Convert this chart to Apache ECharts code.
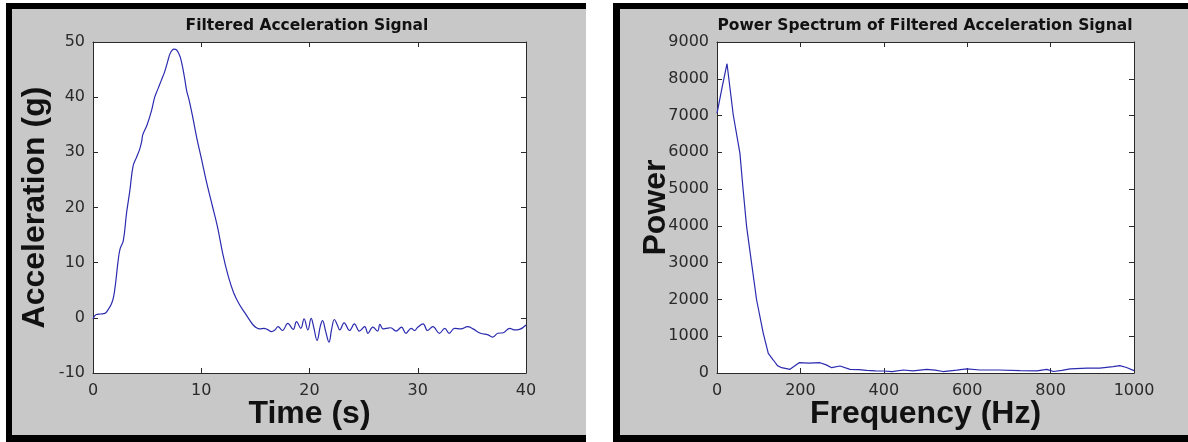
<!DOCTYPE html>
<html>
<head>
<meta charset="utf-8">
<script src="https://cdn.jsdelivr.net/npm/echarts@6/dist/echarts.min.js"></script>
<style>
  html, body { margin: 0; padding: 0; background: #ffffff; }
  #chart { width: 1188px; height: 442px; }
</style>
</head>
<body>
<div id="chart"></div>
<script>
// Filtered acceleration signal: time (s) and acceleration (g)
const timeS = [
  0, 0.3, 0.7, 1.1, 1.4, 1.7, 1.9, 2.1, 2.3, 2.5,
  2.8, 3.1, 3.4, 3.7, 4.0, 4.3, 4.5, 4.6, 5.0, 5.4,
  5.7, 6.0, 6.3, 6.6, 6.9, 7.1, 7.3, 7.5, 7.7, 7.9,
  8.1, 8.3, 8.5, 8.65, 8.9, 9.2, 9.6, 10.0, 10.5, 11.0,
  11.5, 12.0, 12.5, 13.0, 13.5, 14.0, 14.5, 14.8, 15.1, 15.4,
  15.8, 16.1, 16.5, 16.8, 17.1, 17.5, 18.0, 18.5, 18.8, 19.2,
  19.5, 19.85, 20.15, 20.4, 20.7, 21.0, 21.2, 21.5, 21.8, 22.05,
  22.3, 22.55, 22.8, 23.2, 23.7, 24.15, 24.6, 25.1, 25.4, 25.85,
  26.3, 26.5, 26.8, 27.1, 27.5, 28.0, 28.5, 28.9, 29.4, 29.7,
  30.0, 30.5, 30.9, 31.4, 32.0, 32.5, 32.9, 33.4, 34.0, 34.6,
  35.1, 35.8, 36.5, 36.9, 37.4, 37.9, 38.5, 38.9, 39.4, 40
];
const accelG = [
  -0.2, 0.6, 0.7, 0.8, 1.5, 2.5, 3.8, 6.5, 10, 12.5,
  14, 19, 23, 27.5, 29, 30.5, 32, 33.2, 35, 37.5,
  40, 41.5, 43, 44.5, 46.5, 47.8, 48.5, 48.7, 48.6, 48,
  47, 45.2, 43, 41.2, 39.3, 36.5, 32.5, 29, 24.5, 20.5,
  16.5, 11.5, 7.5, 4.5, 2.5, 1, -0.5, -1.3, -1.8, -2,
  -1.9, -2.1, -2.5, -2.2, -1.6, -2.3, -1, -2.1, -0.7, -1.9,
  -0.2, -2.2, -0.1, -1.8, -4.1, -1.5, -0.5, -2.5, -4.4, -2,
  -0.3, -1.2, -2.2, -0.9, -2.3, -1.1, -2.4, -1.6, -2.8, -1.7,
  -2.4, -1.2, -2.0, -1.9, -1.8, -2.4, -1.7, -2.8, -1.9, -2.3,
  -1.7, -1.1, -2.3, -1.6, -2.8, -1.9, -2.8, -1.9, -2.0, -1.6,
  -2.0, -2.8, -3.1, -3.5, -2.8, -2.7, -1.9, -2.2, -2.1, -1.3
];

// Power spectrum of the filtered signal: frequency (Hz) and power
const freqHz = [
  0, 12, 24, 39, 55, 62, 71, 83, 95, 111,
  123, 135, 145, 155, 175, 197, 220, 247, 262, 275,
  295, 319, 340, 359, 380, 399, 420, 447, 470, 503,
  523, 542, 575, 599, 631, 675, 727, 767, 791, 807,
  827, 847, 887, 918, 950, 966, 982, 1000
];
const powerVal = [
  7060, 7750, 8410, 7015, 5973, 5066, 3978, 2982, 1985, 1079,
  535, 353, 200, 145, 100, 280, 270, 280, 220, 145,
  190, 100, 90, 70, 60, 54, 36, 82, 60, 100,
  80, 40, 80, 110, 82, 82, 65, 60, 100, 40,
  70, 110, 130, 130, 172, 200, 150, 65
];

const timeTicks = [0, 10, 20, 30, 40];
const accelTicks = [-10, 0, 10, 20, 30, 40, 50];
const freqTicks = [0, 200, 400, 600, 800, 1000];
const powerTicks = [0, 1000, 2000, 3000, 4000, 5000, 6000, 7000, 8000, 9000];

const titles = ['Filtered Acceleration Signal', 'Power Spectrum of Filtered Acceleration Signal'];

const accelData = timeS.map((t, i) => [t, accelG[i]]);
const powerData = freqHz.map((f, i) => [f, powerVal[i]]);

const TICK_FONT = { fontFamily: 'DejaVu Sans', fontSize: 16, color: '#2a2a2a' };
const NAME_FONT = { fontFamily: 'Liberation Sans', fontSize: 32, fontWeight: 'bold', color: '#111' };
const TITLE_FONT = { fontFamily: 'DejaVu Sans', fontSize: 15.5, fontWeight: 'bold', color: '#111' };
const LINE_COLOR = '#2b2bb0';
const AXIS_COLOR = '#2a2a2a';

function mainAxis(pos, gridIndex, ticks, name, nameGap, margin) {
  return {
    type: 'value', gridIndex, position: pos,
    min: ticks[0], max: ticks[ticks.length - 1],
    interval: ticks[1] - ticks[0],
    axisLine: { show: true, onZero: false, lineStyle: { color: AXIS_COLOR, width: 1 } },
    axisTick: { show: true, inside: true, length: 5, lineStyle: { color: AXIS_COLOR } },
    axisLabel: Object.assign({ margin, formatter: v => String(v) }, TICK_FONT),
    splitLine: { show: false },
    name, nameLocation: 'middle', nameGap, nameMoveOverlap: false,
    nameTextStyle: NAME_FONT
  };
}
function mirrorAxis(pos, gridIndex, ticks) {
  return {
    type: 'value', gridIndex, position: pos,
    min: ticks[0], max: ticks[ticks.length - 1],
    interval: ticks[1] - ticks[0],
    axisLine: { show: true, onZero: false, lineStyle: { color: AXIS_COLOR, width: 1 } },
    axisTick: { show: true, inside: true, length: 5, lineStyle: { color: AXIS_COLOR } },
    axisLabel: { show: false },
    splitLine: { show: false }
  };
}

const chart = echarts.init(document.getElementById('chart'), null, { renderer: 'canvas' });

const option = {
  backgroundColor: '#ffffff',
  animation: false,
  graphic: [
    // figure panels: black frame with grey face
    { type: 'rect', z: -10, shape: { x: 6, y: 3, width: 580, height: 450 }, style: { fill: '#000000' } },
    { type: 'rect', z: -9, shape: { x: 12, y: 9, width: 574, height: 426 }, style: { fill: '#c8c8c8' } },
    { type: 'rect', z: -10, shape: { x: 613, y: 3, width: 600, height: 450 }, style: { fill: '#000000' } },
    { type: 'rect', z: -9, shape: { x: 620, y: 9, width: 600, height: 426 }, style: { fill: '#c8c8c8' } }
  ],
  title: [
    { text: titles[0], left: 302, top: 13, textAlign: 'center', textStyle: TITLE_FONT },
    { text: titles[1], left: 920, top: 13, textAlign: 'center', textStyle: TITLE_FONT }
  ],
  grid: [
    { left: 93, top: 42, width: 433, height: 331, show: true, backgroundColor: '#ffffff', borderWidth: 0 },
    { left: 717, top: 42, width: 417, height: 331, show: true, backgroundColor: '#ffffff', borderWidth: 0 }
  ],
  xAxis: [
    mainAxis('bottom', 0, timeTicks, 'Time (s)', 25, 10),
    mirrorAxis('top', 0, timeTicks),
    mainAxis('bottom', 1, freqTicks, 'Frequency (Hz)', 25, 10),
    mirrorAxis('top', 1, freqTicks)
  ],
  yAxis: [
    mainAxis('left', 0, accelTicks, 'Acceleration (g)', 42, 8),
    mirrorAxis('right', 0, accelTicks),
    mainAxis('left', 1, powerTicks, 'Power', 45, 8),
    mirrorAxis('right', 1, powerTicks)
  ],
  series: [
    { type: 'line', xAxisIndex: 0, yAxisIndex: 0, data: accelData, showSymbol: false, smooth: 0.4,
      lineStyle: { color: LINE_COLOR, width: 1.2 }, itemStyle: { color: LINE_COLOR } },
    { type: 'line', xAxisIndex: 2, yAxisIndex: 2, data: powerData, showSymbol: false,
      lineStyle: { color: LINE_COLOR, width: 1.2 }, itemStyle: { color: LINE_COLOR } }
  ]
};

chart.setOption(option);
</script>
</body>
</html>
